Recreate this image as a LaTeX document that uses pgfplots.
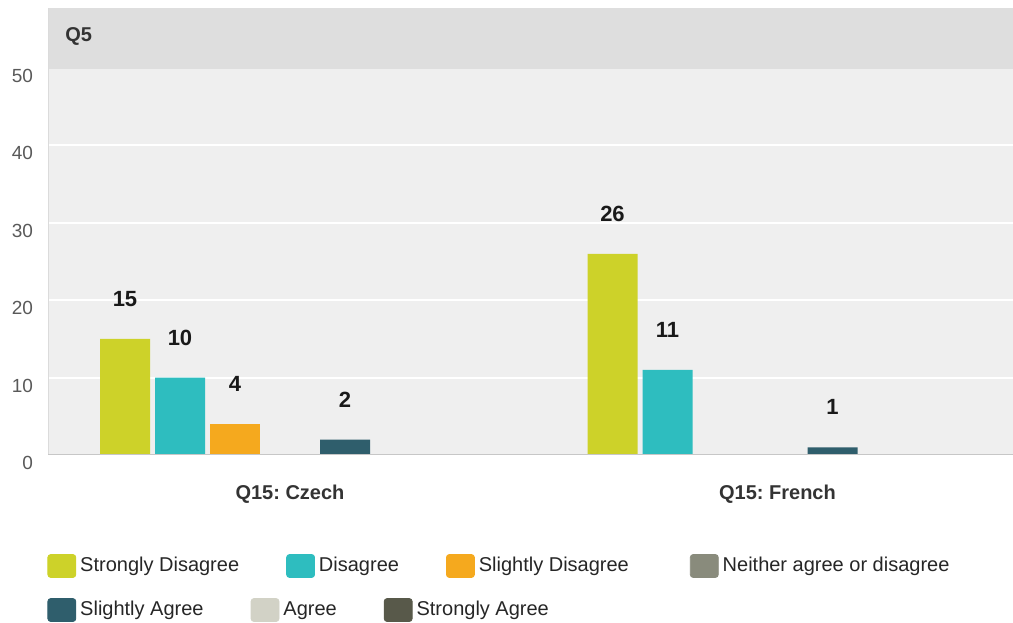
\documentclass[border=0pt]{standalone}
\usepackage{pgfplots}
\pgfplotsset{compat=1.18}
\usepackage{fontspec}
\setmainfont{Liberation Sans}
\frenchspacing
\definecolor{csd}{HTML}{CDD229}
\definecolor{cd}{HTML}{2EBDBF}
\definecolor{csld}{HTML}{F5A91E}
\definecolor{cn}{HTML}{898B7C}
\definecolor{csa}{HTML}{2F5E6C}
\definecolor{ca}{HTML}{D2D2C6}
\definecolor{cst}{HTML}{58594A}
\definecolor{bg}{HTML}{EFEFEF}
\definecolor{band}{HTML}{DEDEDE}
\newcommand\sqimg[1]{\addlegendimage{legend image code/.code={\fill[#1,rounded corners=1.5pt] (0pt,-5.75pt) rectangle (14pt,5.75pt);}}}
\pgfplotsset{
  legsty/.style={legend columns=-1,
    legend style={draw=none, fill=none, inner sep=0pt, anchor=west,
      font=\fontsize{10}{12}\selectfont, text=black!85,
      /tikz/every even column/.append style={column sep=21.5pt}}},
  commonax/.style={at={(24pt,83.5pt)}, anchor=south west,
    scale only axis, width=482.5pt, height=223.5pt,
    xmin=-0.49641, xmax=1.48308, ymin=0, ymax=57.752},
  barsty/.style={ybar, bar width=0.10256, bar shift=0, draw=none, forget plot,
    nodes near coords,
    every node near coord/.append style={anchor=center, yshift=20pt,
      font=\bfseries\fontsize{11}{13}\selectfont, text=black!90}}
}
\begin{document}
\begin{tikzpicture}
\path[use as bounding box] (0,0) rectangle (506.5pt,311pt);
\begin{axis}[commonax, legsty,
  legend style={at={(-0.001,-0.2483)}},
  ytick={0,10,20,30,40,50}, xtick={0,1}, xticklabels={Q15: Czech, Q15: French},
  axis line style={draw=none}, major tick length=0pt,
  ymajorgrids, grid style={white, line width=1pt},
  axis background/.style={fill=bg},
  yticklabel style={font=\fontsize{9.5}{11}\selectfont, text=black!65, xshift=-4pt, yshift=-4pt},
  xticklabel style={font=\bfseries\fontsize{10}{12}\selectfont, text=black!80, yshift=-11.5pt},
  /pgf/number format/assume math mode=true,
]
\fill[band] (rel axis cs:0,0.8635) rectangle (rel axis cs:1,1);
\node[anchor=west, inner sep=0pt, font=\bfseries\fontsize{10}{12}\selectfont, text=black!80]
  at (rel axis cs:0.0176,0.936) {Q5};
\draw[black!14, line width=1pt] (rel axis cs:0,0) -- (rel axis cs:0,1);
% Strongly Disagree (Czech, French)
\addplot[barsty, fill=csd] coordinates {(-0.33846,15) (0.66154,26)};
% Disagree
\addplot[barsty, fill=cd] coordinates {(-0.22564,10) (0.77436,11)};
% Slightly Disagree
\addplot[barsty, fill=csld] coordinates {(-0.11282,4)};
% Slightly Agree
\addplot[barsty, fill=csa] coordinates {(0.11282,2) (1.11282,1)};
\draw[black!22, line width=1.2pt] (rel axis cs:0,0) -- (rel axis cs:1,0);
\sqimg{csd}\addlegendentry{Strongly Disagree}
\sqimg{cd}\addlegendentry{Disagree}
\sqimg{csld}\addlegendentry{Slightly Disagree\rule{7pt}{0pt}}
\sqimg{cn}\addlegendentry{Neither agree or disagree}
\end{axis}
\begin{axis}[commonax, legsty, hide axis,
  legend style={at={(-0.001,-0.3468)}}]
\addplot[draw=none, forget plot] coordinates {(0,0)};
\sqimg{csa}\addlegendentry{Slightly Agree}
\sqimg{ca}\addlegendentry{Agree}
\sqimg{cst}\addlegendentry{Strongly Agree}
\end{axis}
\end{tikzpicture}
\end{document}
